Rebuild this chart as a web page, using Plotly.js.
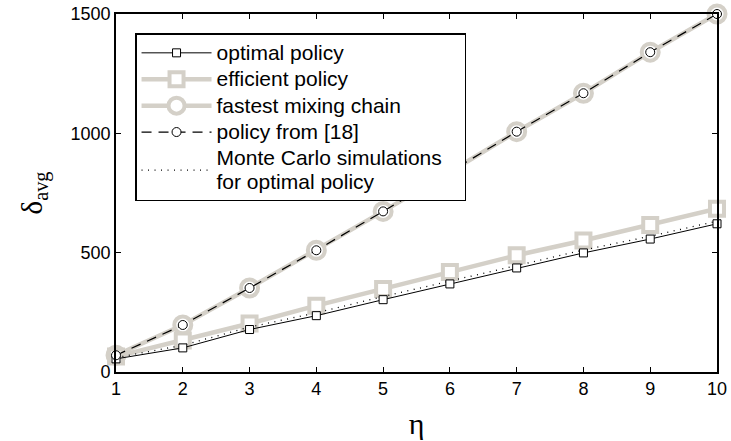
<!DOCTYPE html>
<html>
<head>
<meta charset="utf-8">
<script src="https://cdn.plot.ly/plotly-3.0.1.min.js"></script>
<style>html,body{margin:0;padding:0;background:#fff;}#chart{width:731px;height:441px;}</style>
</head>
<body>
<div id="chart"></div>
<script>
var eta = [1, 2, 3, 4, 5, 6, 7, 8, 9, 10];
var optimalPolicy = [55, 101, 178, 236, 303, 369, 436, 499, 557, 621];
var efficientPolicy = [65, 132, 203, 278, 348, 419, 489, 551, 616, 684];
var fastestMixing = [70, 197, 352, 510, 673, 838, 1007, 1168, 1340, 1500];
var policyRef18 = [70, 197, 352, 510, 673, 838, 1007, 1168, 1340, 1500];
var monteCarlo = [60, 112, 188, 248, 316, 381, 448, 511, 569, 632];
var xTicks = [1, 2, 3, 4, 5, 6, 7, 8, 9, 10];
var yTicks = [0, 500, 1000, 1500];
var seriesNames = ['optimal policy', 'efficient policy', 'fastest mixing chain', 'policy from [18]',
                   'Monte Carlo simulations\u00a0\u00a0\u00a0<br>for optimal policy'];

var gray = 'rgb(212,208,200)';
function lbl(s) {
  return s.split('<br>').map(function (p) { return '<span style="font-size:21px">' + p + '</span>'; }).join('<br>');
}

var traces = [
  {name: lbl(seriesNames[2]), x: eta, y: fastestMixing, mode: 'lines+markers', legendrank: 3,
   line: {color: gray, width: 4.5}, marker: {symbol: 'circle', size: 17, color: 'white', line: {color: gray, width: 4}}, cliponaxis: false},
  {name: lbl(seriesNames[1]), x: eta, y: efficientPolicy, mode: 'lines+markers', legendrank: 2,
   line: {color: gray, width: 4.5}, marker: {symbol: 'square', size: 14, color: 'white', line: {color: gray, width: 4}}, cliponaxis: false},
  {name: lbl(seriesNames[4]), x: eta, y: monteCarlo, mode: 'lines', legendrank: 5,
   line: {color: 'black', width: 1.3, dash: '1px,5.5px'}, cliponaxis: false},
  {name: lbl(seriesNames[0]), x: eta, y: optimalPolicy, mode: 'lines+markers', legendrank: 1,
   line: {color: 'black', width: 1}, marker: {symbol: 'square', size: 8, color: 'white', line: {color: 'black', width: 1}}, cliponaxis: false},
  {name: lbl(seriesNames[3]), x: eta, y: policyRef18, mode: 'lines+markers', legendrank: 4,
   line: {color: 'black', width: 1.2, dash: '10px,7px'}, marker: {symbol: 'circle', size: 9, color: 'white', line: {color: 'black', width: 1}}, cliponaxis: false}
];

var layout = {
  width: 731, height: 441,
  margin: {l: 115.5, r: 14, t: 14, b: 68.5},
  paper_bgcolor: 'white', plot_bgcolor: 'white',
  font: {family: 'Liberation Sans, Arial, sans-serif', color: 'black', size: 18},
  showlegend: true,
  legend: {x: 0.032, y: 0.946, xanchor: 'left', yanchor: 'top', bgcolor: 'rgb(255,255,255)', bordercolor: 'black', borderwidth: 1.3,
           font: {size: 18, family: 'Liberation Sans, Arial, sans-serif'}, itemwidth: 70, tracegroupgap: 0},
  xaxis: {range: [1, 10], tickvals: xTicks, ticktext: xTicks.map(String), ticks: 'inside', ticklen: 5, tickwidth: 1, tickcolor: 'black',
          showline: true, linecolor: 'black', linewidth: 1.8, mirror: 'ticks', showgrid: false, zeroline: false,
          tickfont: {size: 18},
          title: {text: 'η', font: {family: 'Liberation Serif, Times New Roman, serif', size: 30}, standoff: 14}},
  yaxis: {range: [0, 1500], tickvals: yTicks, ticktext: yTicks.map(String), ticks: 'inside', ticklen: 5, tickwidth: 1, tickcolor: 'black',
          showline: true, linecolor: 'black', linewidth: 1.8, mirror: 'ticks', showgrid: false, zeroline: false,
          tickfont: {size: 18},
          title: {text: 'δ<sub>avg</sub>', font: {family: 'Liberation Serif, Times New Roman, serif', size: 29}, standoff: 19}}
};

Plotly.newPlot('chart', traces, layout, {displayModeBar: false, staticPlot: true});
</script>
</body>
</html>
